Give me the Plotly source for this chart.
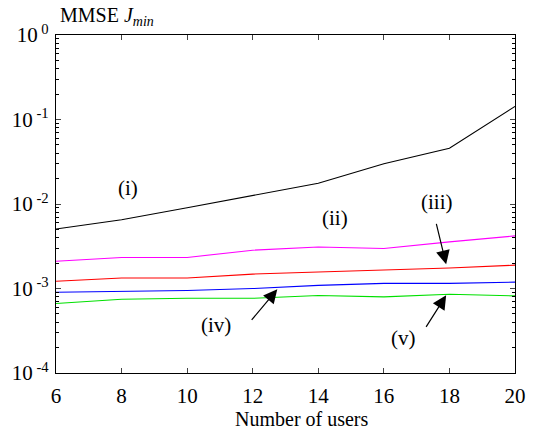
import math
import plotly.graph_objects as go

users = [6, 8, 10, 12, 14, 16, 18, 20]
mmse_i = [0.00506, 0.00652, 0.00903, 0.0127, 0.0176, 0.0299, 0.0457, 0.143]
mmse_ii = [0.00210, 0.00233, 0.00233, 0.00284, 0.00310, 0.00297, 0.00356, 0.00419]
mmse_iii = [0.00122, 0.00133, 0.00133, 0.00148, 0.00157, 0.00166, 0.00175, 0.00189]
mmse_iv = [0.000904, 0.00093, 0.000946, 0.00100, 0.00109, 0.00115, 0.00115, 0.00119]
mmse_v = [0.000664, 0.000747, 0.000767, 0.000767, 0.000826, 0.000796, 0.000856, 0.000818]

series = [
    ("(i)", mmse_i, "#000000"),
    ("(ii)", mmse_ii, "#FF00FF"),
    ("(iii)", mmse_iii, "#FF0000"),
    ("(iv)", mmse_iv, "#0000FF"),
    ("(v)", mmse_v, "#00E000"),
]

x_ticks = [6, 8, 10, 12, 14, 16, 18, 20]
y_tickvals = [1e-4, 1e-3, 1e-2, 1e-1, 1]
y_ticktext = ["10<sup> -4</sup>", "10<sup> -3</sup>", "10<sup> -2</sup>", "10<sup> -1</sup>", "10<sup> 0</sup>"]
minor_vals = [m * 10 ** e for e in range(-4, 0) for m in range(2, 10)]

FONT = "Liberation Serif"

fig = go.Figure()
for name, vals, col in series:
    fig.add_trace(go.Scatter(x=users, y=vals, mode="lines", name=name,
                             line=dict(color=col, width=1.1), showlegend=False))

labels = [
    ("(i)", 8.21, 0.01527),
    ("(ii)", 14.52, 0.00692),
    ("(iii)", 17.62, 0.01047),
    ("(iv)", 10.89, 0.000366),
    ("(v)", 16.59, 0.000257),
]
annotations = []
for t, xv, yv in labels:
    annotations.append(dict(x=xv, y=math.log10(yv), text=t, showarrow=False,
                            xref="x", yref="y", font=dict(size=21, family=FONT, color="black")))

arrows = [
    (17.59, 0.00605, 17.90, 0.00193),
    (11.93, 0.000408, 12.75, 0.000977),
    (17.26, 0.000338, 17.90, 0.000830),
]
for tx, ty, hx, hy in arrows:
    annotations.append(dict(x=hx, y=math.log10(hy), ax=tx, ay=math.log10(ty),
                            xref="x", yref="y", axref="x", ayref="y",
                            text="", showarrow=True, arrowhead=2, arrowsize=2.3,
                            arrowwidth=1.2, arrowcolor="black", standoff=0))

L, R, T, B = 56, 24, 35, 59
pw = 539 - L - R
ph = 432 - T - B

annotations.append(dict(x=(58 - L) / pw, y=(432 - B - 16) / ph, xref="paper", yref="paper",
                        text="MMSE <i>J<sub>min</sub></i>", showarrow=False,
                        xanchor="left", yanchor="middle",
                        font=dict(size=20, family=FONT, color="black")))
annotations.append(dict(x=(302 - L) / pw, y=-(419 - (432 - B)) / ph, xref="paper", yref="paper",
                        text="Number of users", showarrow=False, xanchor="center", yanchor="middle",
                        font=dict(size=20, family=FONT, color="black")))

fig.update_layout(
    width=539, height=432,
    margin=dict(l=L, r=R, t=T, b=B, autoexpand=False),
    paper_bgcolor="white", plot_bgcolor="white",
    font=dict(family=FONT, size=21, color="black"),
    annotations=annotations,
)

fig.update_xaxes(range=[6, 20], tickvals=x_ticks, ticks="inside", ticklen=5,
                 showline=True, linecolor="black", linewidth=1.2, mirror="ticks",
                 showgrid=False, zeroline=False, tickfont=dict(size=21, family=FONT),
                 ticklabelstandoff=4)
fig.update_yaxes(type="log", range=[-4, 0], tickvals=y_tickvals, ticktext=y_ticktext,
                 ticks="inside", ticklen=5, showline=True, linecolor="black", linewidth=1.2,
                 mirror="ticks", showgrid=False, zeroline=False,
                 tickfont=dict(size=21, family=FONT), ticklabelstandoff=2,
                 minor=dict(tickvals=minor_vals, ticks="inside", ticklen=3, tickcolor="black", showgrid=False))

fig.write_html("out.html", post_script="document.body.style.margin='0';",
               config={"displayModeBar": False})
